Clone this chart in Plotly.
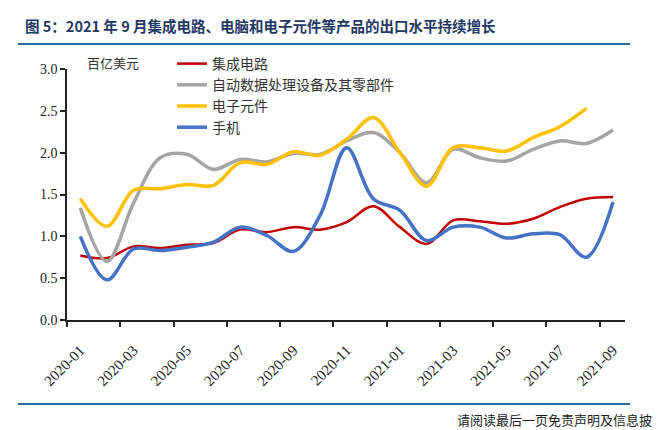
import plotly.graph_objects as go

# monthly export values, 100 million USD
months = ['2020-01', '2020-02', '2020-03', '2020-04', '2020-05', '2020-06', '2020-07',
          '2020-08', '2020-09', '2020-10', '2020-11', '2020-12', '2021-01', '2021-02',
          '2021-03', '2021-04', '2021-05', '2021-06', '2021-07', '2021-08', '2021-09']
ic = [0.77, 0.74, 0.88, 0.86, 0.90, 0.92, 1.08, 1.05, 1.11, 1.08, 1.17,
      1.36, 1.11, 0.91, 1.19, 1.18, 1.15, 1.21, 1.35, 1.45, 1.47]
computer = [1.34, 0.70, 1.40, 1.94, 1.98, 1.80, 1.92, 1.89, 1.99, 1.98, 2.14,
            2.24, 2.00, 1.64, 2.04, 1.94, 1.90, 2.04, 2.14, 2.11, 2.27]
components = [1.45, 1.12, 1.55, 1.57, 1.62, 1.61, 1.88, 1.86, 2.01, 1.97, 2.16,
              2.42, 2.00, 1.60, 2.06, 2.06, 2.02, 2.18, 2.31, 2.53, None]
phones = [1.00, 0.48, 0.85, 0.83, 0.87, 0.93, 1.11, 1.01, 0.82, 1.25, 2.06,
          1.45, 1.31, 0.95, 1.11, 1.11, 0.98, 1.03, 1.02, 0.75, 1.41]

series = [
    ('集成电路', ic, '#C00000', 2.5),
    ('自动数据处理设备及其零部件', computer, '#A5A5A5', 3.5),
    ('电子元件', components, '#FFC000', 3.5),
    ('手机', phones, '#4472C4', 3.5),
]

idx = list(range(len(months)))

# page puts the plot 8px in from the top-left corner, so shift layout back
OFF = 8
PL, PR, PT, PB = 67, 625, 69, 320          # plot area on screen
PW, PH = PR - PL, PB - PT


def px_x(x):
    return (x - PL) / PW


def px_y(y):
    return (PB - y) / PH


fig = go.Figure()
for name, vals, color, w in series:
    fig.add_trace(go.Scatter(
        x=idx, y=vals, name=name, mode='lines',
        line=dict(color=color, width=w, shape='spline', smoothing=1),
    ))

serif = 'Liberation Serif'
cjk = 'Noto Sans CJK SC'

fig.update_layout(
    width=663, height=430,
    margin=dict(l=PL - OFF, r=663 - (PR - OFF), t=PT - OFF, b=430 - (PB - OFF)),
    plot_bgcolor='white', paper_bgcolor='white',
    showlegend=True,
    legend=dict(x=px_x(172), y=px_y(48), xanchor='left', yanchor='top',
                font=dict(family=cjk, size=14, color='#333333'),
                bgcolor='rgba(0,0,0,0)', itemwidth=30, tracegroupgap=0),
    title=dict(text='图 5：2021 年 9 月集成电路、电脑和电子元件等产品的出口水平持续增长',
               xref='container', yref='container', x=(25 - OFF) / 663, y=1 - (27 - OFF) / 430,
               xanchor='left', yanchor='middle',
               font=dict(family=cjk, size=14.5, color='#1F3864', weight='bold')),
)

fig.update_xaxes(
    range=[-0.5, 20.45], tickmode='array',
    tickvals=idx[::2], ticktext=months[::2], ticks='', tickangle=-45,
    ticklabelstandoff=14,
    tickfont=dict(family=serif, size=15, color='#222222'),
    showline=True, linecolor='#222222', linewidth=1.5, showgrid=False, zeroline=False,
    minor=dict(tickvals=[i - 0.5 for i in idx[::2]], ticks='outside', ticklen=5,
               tickcolor='#222222', tickwidth=1.5, showgrid=False),
)
fig.update_yaxes(
    range=[0, 3], dtick=0.5, tickformat='.1f', ticks='outside', ticklen=5,
    tickcolor='#222222', tickwidth=1.5,
    tickfont=dict(family=serif, size=14, color='#222222'),
    showline=True, linecolor='#222222', linewidth=1.5, showgrid=False, zeroline=False,
)

# unit label and footer
fig.add_annotation(text='百亿美元', xref='paper', yref='paper', x=px_x(85),
                   y=px_y(62), xanchor='left', yanchor='middle', showarrow=False,
                   font=dict(family=cjk, size=13, color='#333333'))
fig.add_annotation(text='请阅读最后一页免责声明及信息披', xref='paper', yref='paper',
                   x=px_x(654), y=px_y(419), xanchor='right', yanchor='middle',
                   showarrow=False, font=dict(family=cjk, size=13, color='#222222'))

# blue rules above and below the chart
for py in (44, 404):
    fig.add_shape(type='line', xref='paper', yref='paper',
                  x0=px_x(18), x1=px_x(630), y0=px_y(py), y1=px_y(py),
                  line=dict(color='#2E6CA4', width=2))

fig.write_html('out.html')
